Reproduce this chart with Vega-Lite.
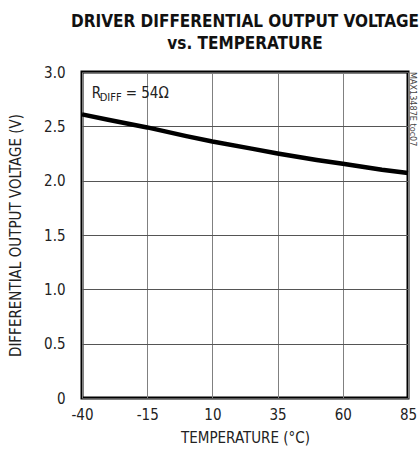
{
  "$schema": "https://vega.github.io/schema/vega-lite/v6.json",
  "width": 326,
  "height": 326,
  "autosize": "none",
  "padding": {"left": 82, "top": 72, "right": 11, "bottom": 58},
  "background": "white",
  "title": {
    "text": ["DRIVER DIFFERENTIAL OUTPUT VOLTAGE", "vs. TEMPERATURE"],
    "font": "DejaVu Sans Condensed, Liberation Sans",
    "fontWeight": "bold",
    "fontSize": 17,
    "lineHeight": 22,
    "color": "#111",
    "anchor": "middle",
    "offset": 12
  },
  "config": {
    "view": {"stroke": "black", "strokeWidth": 3},
    "axis": {
      "labelFont": "DejaVu Sans Condensed, Liberation Sans",
      "titleFont": "DejaVu Sans Condensed, Liberation Sans",
      "labelFontSize": 15,
      "titleFontSize": 15,
      "titleFontWeight": "normal",
      "labelColor": "#222",
      "titleColor": "#222",
      "domain": false,
      "ticks": false,
      "gridWidth": 1,
      "gridOpacity": 1
    }
  },
  "data": {"values": [
    {"t": -40, "v": 2.61},
    {"t": -30, "v": 2.56},
    {"t": -15, "v": 2.49},
    {"t": 0, "v": 2.41},
    {"t": 10, "v": 2.36},
    {"t": 25, "v": 2.295},
    {"t": 35, "v": 2.25},
    {"t": 50, "v": 2.19},
    {"t": 60, "v": 2.155},
    {"t": 75, "v": 2.10},
    {"t": 85, "v": 2.07}
  ]},
  "layer": [
    {
      "mark": {"type": "line", "color": "black", "strokeWidth": 4.5},
      "encoding": {
        "x": {"field": "t", "type": "quantitative",
          "scale": {"domain": [-40, 85], "nice": false},
          "axis": {"values": [-40, -15, 10, 35, 60, 85], "title": "TEMPERATURE (°C)", "labelPadding": 9, "titlePadding": 8, "labelFlush": false, "gridColor": "#808080", "labelExpr": "replace(datum.label, '−', '-')"}},
        "y": {"field": "v", "type": "quantitative",
          "scale": {"domain": [0, 3], "nice": false},
          "axis": {"values": [0, 0.5, 1, 1.5, 2, 2.5, 3], "title": "DIFFERENTIAL OUTPUT VOLTAGE (V)", "labelPadding": 17, "titlePadding": 20, "labelExpr": "datum.value == 0 ? '0' : format(datum.value, '.1f')", "labelFlush": false, "gridColor": "#555"}}
      }
    },
    {
      "data": {"values": [{}]},
      "mark": {"type": "text", "text": "R", "font": "DejaVu Sans Condensed, Liberation Sans", "fontSize": 15, "align": "left", "baseline": "alphabetic", "color": "#222"},
      "encoding": {"x": {"datum": -36.3}, "y": {"datum": 2.76}}
    },
    {
      "data": {"values": [{}]},
      "mark": {"type": "text", "text": "DIFF", "font": "DejaVu Sans Condensed, Liberation Sans", "fontSize": 11, "align": "left", "baseline": "alphabetic", "dx": 8, "dy": 3, "color": "#222"},
      "encoding": {"x": {"datum": -36.3}, "y": {"datum": 2.76}}
    },
    {
      "data": {"values": [{}]},
      "mark": {"type": "text", "text": "= 54Ω", "font": "DejaVu Sans Condensed, Liberation Sans", "fontSize": 15, "align": "left", "baseline": "alphabetic", "dx": 34, "color": "#222"},
      "encoding": {"x": {"datum": -36.3}, "y": {"datum": 2.76}}
    },
    {
      "data": {"values": [{}]},
      "mark": {"type": "text", "text": "MAX13487E toc07", "font": "DejaVu Sans Condensed, Liberation Sans", "fontSize": 9, "angle": 90, "align": "left", "baseline": "middle", "dx": 0, "dy": -5, "color": "#444"},
      "encoding": {"x": {"datum": 85}, "y": {"datum": 3.0}}
    }
  ]
}
